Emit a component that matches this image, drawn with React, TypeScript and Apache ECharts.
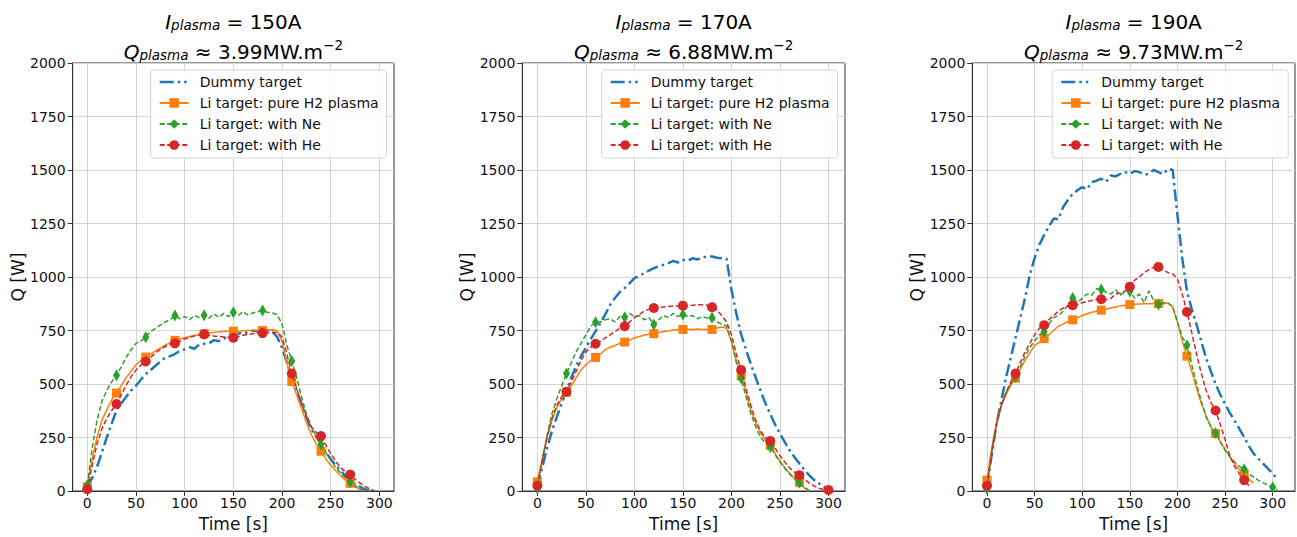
import React, { useEffect, useRef } from "react";
import * as echarts from "echarts";

const FONT = "DejaVu Sans";
const STEP = 5; // sampling step of the data, seconds
const X_TICKS = [0, 50, 100, 150, 200, 250, 300];
const NAMES = ["Dummy target", "Li target: pure H2 plasma", "Li target: with Ne", "Li target: with He"];
const CURRENTS = ["150A", "170A", "190A"];
const QPLASMA = ["3.99", "6.88", "9.73"];

// Panel 1 (150 A), values every 5 s from t = 0
const p1Dummy = [20, 60, 113, 180, 250, 315, 376, 410, 440, 470, 492, 520, 546, 565, 585, 605, 623, 630, 640, 655, 662, 672, 665, 685, 688, 690, 705, 700, 712, 720, 724, 735, 742, 738, 750, 745, 747, 752, 744, 720, 670, 600, 531, 470, 407, 345, 290, 255, 221, 180, 150, 120, 97, 70, 50, 32, 20, 8, 0];
const p1Pure = [20, 150, 250, 330, 380, 425, 458, 495, 530, 560, 590, 610, 626, 640, 655, 668, 682, 693, 704, 710, 716, 722, 727, 731, 735, 738, 741, 743, 745, 746, 747, 748, 749, 750, 751, 751, 750, 752, 754, 750, 700, 600, 512, 450, 385, 320, 265, 220, 186, 150, 120, 95, 72, 52, 36, 20, 8, 0];
const p1Ne = [28, 200, 330, 420, 470, 510, 541, 580, 625, 660, 690, 700, 719, 745, 760, 775, 790, 800, 820, 805, 815, 800, 820, 810, 821, 808, 828, 812, 830, 815, 835, 820, 838, 822, 832, 838, 843, 835, 832, 825, 780, 680, 608, 530, 440, 360, 300, 255, 217, 180, 145, 110, 85, 62, 43, 25, 10, 0];
const p1He = [8, 120, 220, 290, 340, 375, 407, 450, 495, 535, 565, 588, 605, 625, 645, 662, 675, 684, 690, 700, 710, 718, 724, 729, 732, 728, 724, 722, 720, 718, 716, 722, 728, 732, 735, 737, 738, 740, 742, 740, 720, 640, 549, 480, 410, 350, 300, 275, 257, 215, 175, 140, 110, 90, 77, 55, 38, 22, 10, 0];

// Panel 2 (170 A)
const p2Dummy = [20, 110, 200, 280, 345, 410, 469, 530, 584, 630, 670, 710, 747, 785, 825, 870, 902, 930, 948, 970, 995, 1005, 1018, 1030, 1041, 1050, 1057, 1065, 1075, 1068, 1080, 1075, 1088, 1082, 1091, 1095, 1096, 1090, 1088, 1085, 940, 830, 732, 660, 593, 530, 469, 410, 360, 310, 268, 228, 190, 158, 128, 100, 74, 52, 36, 20, 9];
const p2Pure = [43, 150, 250, 330, 390, 430, 461, 490, 530, 565, 590, 610, 624, 640, 660, 672, 680, 690, 696, 705, 715, 722, 728, 732, 735, 740, 745, 748, 752, 754, 755, 756, 755, 757, 755, 756, 755, 762, 766, 760, 700, 610, 538, 460, 380, 320, 270, 238, 213, 175, 140, 110, 82, 60, 40, 15, 0];
const p2Ne = [12, 140, 260, 360, 430, 490, 549, 600, 650, 690, 730, 770, 789, 790, 800, 805, 790, 815, 812, 830, 815, 820, 800, 810, 778, 800, 820, 810, 830, 815, 825, 815, 820, 805, 815, 808, 809, 790, 780, 770, 700, 600, 527, 440, 360, 300, 250, 225, 206, 170, 135, 105, 80, 58, 39, 18, 3];
const p2He = [25, 140, 250, 340, 400, 440, 464, 510, 560, 610, 650, 672, 688, 700, 715, 730, 745, 760, 770, 790, 810, 825, 840, 850, 855, 858, 860, 862, 864, 865, 866, 866, 868, 870, 870, 868, 859, 845, 820, 790, 730, 640, 566, 480, 400, 330, 280, 250, 234, 200, 165, 135, 108, 88, 74, 55, 38, 24, 13, 7, 5];

// Panel 3 (190 A)
const p3Dummy = [20, 170, 314, 420, 530, 623, 716, 810, 902, 1010, 1088, 1150, 1196, 1235, 1273, 1270, 1327, 1360, 1389, 1405, 1420, 1410, 1443, 1450, 1459, 1445, 1474, 1470, 1482, 1490, 1482, 1495, 1490, 1478, 1482, 1500, 1490, 1480, 1505, 1500, 1288, 1088, 933, 850, 778, 700, 623, 560, 500, 450, 407, 365, 329, 290, 252, 210, 175, 150, 128, 105, 82, 55];
const p3Pure = [51, 200, 320, 400, 450, 495, 527, 570, 610, 645, 680, 695, 712, 730, 750, 770, 780, 792, 800, 810, 820, 828, 835, 840, 845, 850, 855, 860, 865, 868, 871, 873, 874, 875, 875, 876, 876, 874, 878, 860, 790, 700, 630, 560, 480, 410, 350, 300, 268, 230, 195, 160, 128, 100, 82, 55, 38];
const p3Ne = [9, 180, 310, 400, 460, 500, 534, 580, 630, 670, 700, 730, 744, 780, 810, 820, 840, 870, 902, 880, 900, 920, 915, 945, 942, 930, 920, 940, 915, 930, 933, 900, 920, 880, 935, 890, 871, 880, 880, 860, 790, 720, 681, 590, 500, 420, 350, 300, 271, 230, 190, 160, 135, 115, 102, 80, 65, 50, 38, 28, 17, 5];
const p3He = [25, 180, 310, 400, 460, 510, 549, 600, 650, 690, 730, 760, 775, 800, 820, 840, 855, 862, 868, 872, 880, 885, 890, 895, 896, 893, 900, 920, 925, 935, 955, 985, 1000, 1020, 1035, 1045, 1047, 1035, 1020, 1015, 990, 920, 837, 740, 640, 550, 470, 415, 376, 310, 240, 165, 115, 80, 51, 25];

const PANELS = [
  [p1Dummy, p1Pure, p1Ne, p1He],
  [p2Dummy, p2Pure, p2Ne, p2He],
  [p3Dummy, p3Pure, p3Ne, p3He],
];
const X_RANGES = [
  [-15, 315],
  [-15.5, 317],
  [-15.4, 323.4],
];

const GRIDS = [
  { left: 72.7, width: 321.3 },
  { left: 522.3, width: 322.7 },
  { left: 972.3, width: 322.7 },
];
const LEGEND_LEFT = [150.7, 601.7, 1052.3];

const COLORS = ["#1f77b4", "#ff7f0e", "#2ca02c", "#d62728"];
const SYMBOLS = ["none", "rect", "diamond", "circle"];
const SYMBOL_SIZES: any[] = [0, 9, [7, 12], 10];
const LINE_TYPES: any[] = [[12, 4, 2.5, 4], "solid", [5, 2.5], [5, 2.5]];
const LINE_WIDTHS = [2.5, 1.5, 1.5, 1.5];

// dash-dot legend glyph for the dummy target (29 x 12 box)
const DASHDOT_ICON =
  "path://M0,0M29,12M0,4.75h14v2.5h-14zM18,4.75h2.5v2.5h-2.5zM24.5,4.75h2.5v2.5h-2.5z";

function points(vals: number[]) {
  return vals.map((v, i) =>
    i % 6 === 0 ? { value: [i * STEP, v] } : { value: [i * STEP, v], symbol: "none" }
  );
}

function buildOption() {
  const textColor = "#111";
  const grid: any[] = [];
  const xAxis: any[] = [];
  const yAxis: any[] = [];
  const series: any[] = [];
  const legend: any[] = [];
  const title: any[] = [];

  const richBase = {
    it: { fontStyle: "italic", fontSize: 20, fontFamily: FONT, verticalAlign: "bottom", lineHeight: 24, color: "#000" },
    sub: { fontStyle: "italic", fontSize: 13.5, fontFamily: FONT, verticalAlign: "bottom", lineHeight: 16, color: "#000" },
    n: { fontSize: 20, fontFamily: FONT, verticalAlign: "bottom", lineHeight: 24, color: "#000" },
    sup: { fontSize: 13.5, fontFamily: FONT, verticalAlign: "top", lineHeight: 10, color: "#000" },
  };

  PANELS.forEach((panel, g) => {
    const gr = GRIDS[g];
    grid.push({
      left: gr.left,
      top: 63,
      width: gr.width,
      height: 431,
      show: true,
      borderColor: "#333",
      borderWidth: 1,
      backgroundColor: "transparent",
    });
    xAxis.push({
      gridIndex: g,
      type: "value",
      min: X_RANGES[g][0],
      max: X_RANGES[g][1],
      axisLine: { show: true, onZero: false, lineStyle: { color: "#333", width: 1 } },
      axisTick: { show: true, customValues: X_TICKS, length: 5, lineStyle: { color: "#333" } },
      axisLabel: { customValues: X_TICKS, fontSize: 14, color: textColor, margin: 5, fontFamily: FONT },
      splitLine: { show: true, lineStyle: { color: "#d4d4d4", width: 1 } },
      name: "Time [s]",
      nameLocation: "middle",
      nameGap: 24,
      nameTextStyle: { fontSize: 17, color: textColor, fontFamily: FONT },
    });
    yAxis.push({
      gridIndex: g,
      type: "value",
      min: 0,
      max: 2000,
      interval: 250,
      axisLine: { show: true, onZero: false, lineStyle: { color: "#333", width: 1 } },
      axisTick: { show: true, length: 5, lineStyle: { color: "#333" } },
      axisLabel: {
        fontSize: 14,
        color: textColor,
        margin: 7,
        fontFamily: FONT,
        formatter: (v: number) => String(v),
      },
      splitLine: { show: true, lineStyle: { color: "#d4d4d4", width: 1 } },
      name: "Q [W]",
      nameLocation: "middle",
      nameGap: 45,
      nameTextStyle: { fontSize: 17, color: textColor, fontFamily: FONT },
    });
    panel.forEach((vals, k) => {
      series.push({
        type: "line",
        name: NAMES[k],
        xAxisIndex: g,
        yAxisIndex: g,
        data: points(vals),
        symbol: SYMBOLS[k],
        symbolSize: SYMBOL_SIZES[k],
        showAllSymbol: true,
        silent: true,
        lineStyle: { color: COLORS[k], width: LINE_WIDTHS[k], type: LINE_TYPES[k] },
        itemStyle: { color: COLORS[k], borderWidth: 0 },
        z: 2 + k,
      });
    });
    legend.push({
      data: [{ name: NAMES[0], icon: DASHDOT_ICON }, NAMES[1], NAMES[2], NAMES[3]],
      left: LEGEND_LEFT[g],
      top: 70,
      orient: "vertical",
      itemWidth: 29,
      itemHeight: 12,
      itemGap: 7,
      padding: [5, 8, 6, 8],
      backgroundColor: "rgba(255,255,255,0.85)",
      borderColor: "#d6d6d6",
      borderWidth: 1,
      borderRadius: 3,
      selectedMode: false,
      textStyle: { fontSize: 14, color: textColor, fontFamily: FONT, padding: [0, 0, 0, 6] },
    });
    const cx = gr.left + gr.width / 2;
    title.push({
      text: `{it|I}{sub|plasma}{n| = ${CURRENTS[g]}}`,
      left: cx,
      top: 8,
      textAlign: "center",
      padding: 0,
      textStyle: { fontSize: 20, fontFamily: FONT, fontWeight: "normal", color: "#000", rich: richBase },
    });
    title.push({
      text: `{it|Q}{sub|plasma}{n| ≈ ${QPLASMA[g]}MW.m}{sup|−2}`,
      left: cx,
      top: 38,
      textAlign: "center",
      padding: 0,
      textStyle: { fontSize: 20, fontFamily: FONT, fontWeight: "normal", color: "#000", rich: richBase },
    });
  });

  return { animation: false, backgroundColor: "#fff", title, grid, xAxis, yAxis, legend, series };
}

export default function App() {
  const ref = useRef<HTMLDivElement>(null);
  useEffect(() => {
    if (!ref.current) return;
    const chart = echarts.init(ref.current, undefined, { renderer: "svg" });
    chart.setOption(buildOption() as any);
    return () => chart.dispose();
  }, []);
  return (
    <div
      ref={ref}
      style={{ position: "absolute", left: 0, top: 0, width: 1297, height: 537, background: "#fff" }}
    />
  );
}
